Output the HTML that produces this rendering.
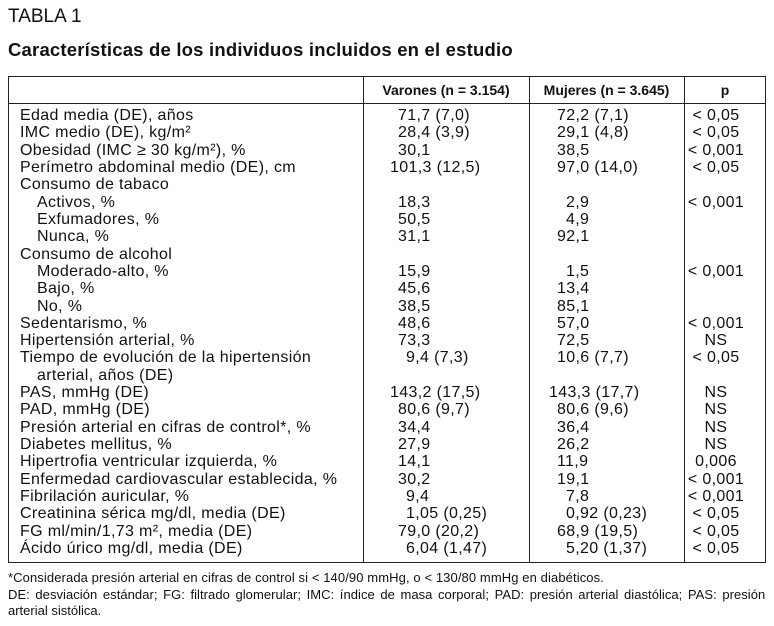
<!DOCTYPE html>
<html><head><meta charset="utf-8"><style>
body{margin:0;width:774px;height:626px;background:#fff;position:relative;overflow:hidden;font-family:"Liberation Sans",sans-serif;color:#111}
.a{position:absolute;white-space:nowrap;line-height:1}
.c{font-size:16px;letter-spacing:0.35px}
.ln{position:absolute;background:#222}
</style></head><body>
<div class="a" style="left:8px;top:7px;font-size:19px">TABLA 1</div>
<div class="a" style="left:8px;top:41px;font-size:18.5px;font-weight:bold;letter-spacing:0.2px">Características de los individuos incluidos en el estudio</div>
<div id="tbl">
<div class="ln" style="left:8px;top:76px;width:758px;height:1px"></div>
<div class="ln" style="left:8px;top:103px;width:758px;height:1px"></div>
<div class="ln" style="left:8px;top:562px;width:758px;height:1px"></div>
<div class="ln" style="left:8px;top:76px;width:1px;height:487px"></div>
<div class="ln" style="left:765px;top:76px;width:1px;height:487px"></div>
<div class="ln" style="left:363px;top:76px;width:1px;height:487px"></div>
<div class="ln" style="left:529px;top:76px;width:1px;height:487px"></div>
<div class="ln" style="left:684px;top:76px;width:1px;height:487px"></div>
<div class="a" style="left:363px;width:166px;text-align:center;top:83px;font-size:14px;font-weight:bold">Varones (n = 3.154)</div>
<div class="a" style="left:529px;width:155px;text-align:center;top:83px;font-size:14px;font-weight:bold">Mujeres (n = 3.645)</div>
<div class="a" style="left:684px;width:82px;text-align:center;top:83px;font-size:14px;font-weight:bold">p</div>
</div>
<div class="a" style="left:8px;top:571px;font-size:13px;letter-spacing:0.1px">*Considerada presión arterial en cifras de control si &lt; 140/90 mmHg, o &lt; 130/80 mmHg en diabéticos.</div>
<div class="a" style="left:8px;top:588px;font-size:13px;word-spacing:1.9px;letter-spacing:0.05px">DE: desviación estándar; FG: filtrado glomerular; IMC: índice de masa corporal; PAD: presión arterial diastólica; PAS: presión</div>
<div class="a" style="left:8px;top:604px;font-size:13px">arterial sistólica.</div>
<script>
const labels=["Edad media (DE), años","IMC medio (DE), kg/m²","Obesidad (IMC ≥ 30 kg/m²), %","Perímetro abdominal medio (DE), cm","Consumo de tabaco","  Activos, %","  Exfumadores, %","  Nunca, %","Consumo de alcohol","  Moderado-alto, %","  Bajo, %","  No, %","Sedentarismo, %","Hipertensión arterial, %","Tiempo de evolución de la hipertensión","  arterial, años (DE)","PAS, mmHg (DE)","PAD, mmHg (DE)","Presión arterial en cifras de control*, %","Diabetes mellitus, %","Hipertrofia ventricular izquierda, %","Enfermedad cardiovascular establecida, %","Fibrilación auricular, %","Creatinina sérica mg/dl, media (DE)","FG ml/min/1,73 m², media (DE)","Ácido úrico mg/dl, media (DE)"];
const varones=["71,7 (7,0)","28,4 (3,9)","30,1","101,3 (12,5)","","18,3","50,5","31,1","","15,9","45,6","38,5","48,6","73,3","9,4 (7,3)","","143,2 (17,5)","80,6 (9,7)","34,4","27,9","14,1","30,2","9,4","1,05 (0,25)","79,0 (20,2)","6,04 (1,47)"];
const mujeres=["72,2 (7,1)","29,1 (4,8)","38,5","97,0 (14,0)","","2,9","4,9","92,1","","1,5","13,4","85,1","57,0","72,5","10,6 (7,7)","","143,3 (17,7)","80,6 (9,6)","36,4","26,2","11,9","19,1","7,8","0,92 (0,23)","68,9 (19,5)","5,20 (1,37)"];
const pvals=["< 0,05","< 0,05","< 0,001","< 0,05","","< 0,001","","","","< 0,001","","","< 0,001","NS","< 0,05","","NS","NS","NS","NS","0,006","< 0,001","< 0,001","< 0,05","< 0,05","< 0,05"];
function intLen(s){return s.split(",")[0].length;}
function mk(txt,left,top,extra){const d=document.createElement('div');d.className='a c';d.textContent=txt;d.style.left=left+'px';d.style.top=top+'px';if(extra)d.style.cssText+=extra;document.body.appendChild(d);return d;}
labels.forEach((l,i)=>{
  const y=108+i*17.32;
  const ind=l.startsWith("  ");
  const e=mk(l.trim(),ind?37:20,y);
  
  
  if(varones[i]){const n=intLen(varones[i]);const v=mk(varones[i],n==1?406:n==2?398:390,y);
    
    }
  if(mujeres[i]){const n=intLen(mujeres[i]);const m=mk(mujeres[i],n==1?566:n==2?557:549,y);
    
    }
  if(pvals[i]){const p=mk(pvals[i],676,y,'width:80px;text-align:center;');
    
    }
});
</script>
</body></html>
